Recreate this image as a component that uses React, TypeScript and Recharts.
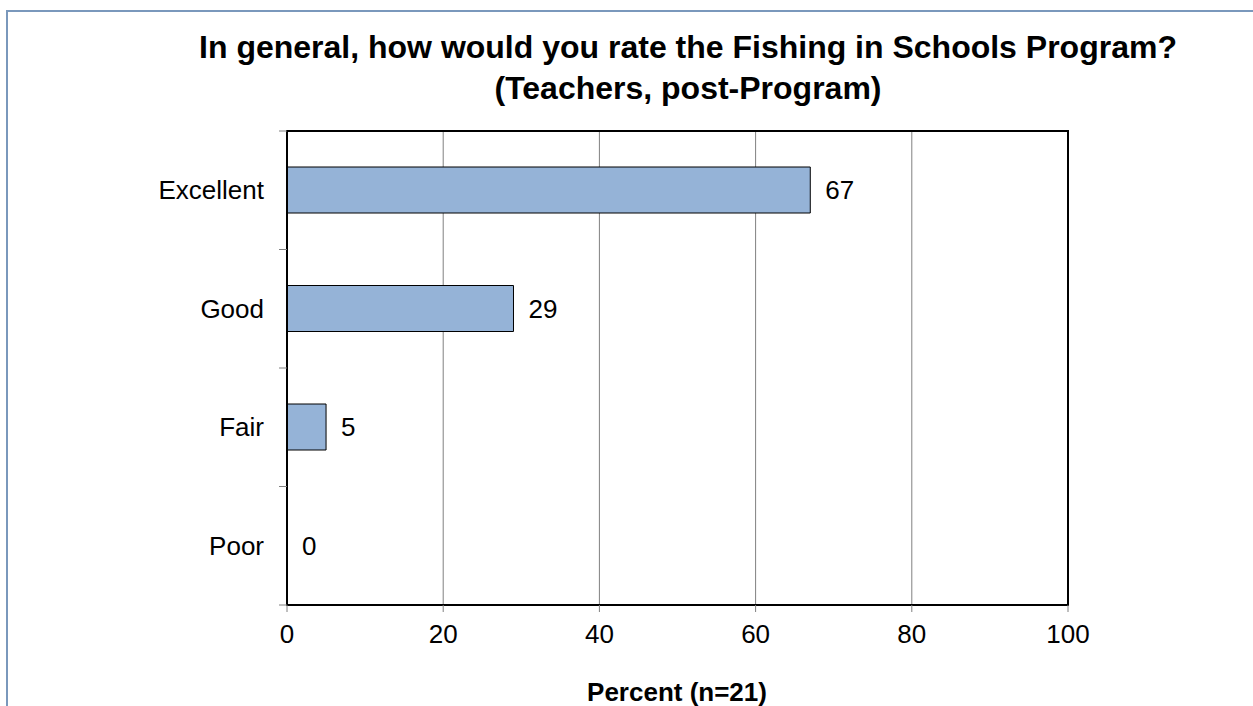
import React from "react";
import {
  BarChart,
  Bar,
  XAxis,
  YAxis,
  CartesianGrid,
  LabelList,
  ReferenceArea,
} from "recharts";

const categories = ["Excellent", "Good", "Fair", "Poor"];
const percents = [67, 29, 5, 0];
const xTicks = [0, 20, 40, 60, 80, 100];

const data = categories.map((c, i) => ({ name: c, value: percents[i] }));

const W = 1253;
const H = 706;
const PLOT_TOP = 131;
const PLOT_BOTTOM = 605;
const BAND = (PLOT_BOTTOM - PLOT_TOP) / categories.length;
const FONT = "'Liberation Sans', Arial, sans-serif";

const YTick = (props: any) => {
  const { x, y, payload } = props;
  return (
    <text
      x={x}
      y={y}
      textAnchor="end"
      dominantBaseline="central"
      fontSize={26}
      fontFamily={FONT}
      fill="#000"
    >
      {payload.value}
    </text>
  );
};

export default function App() {
  const axisX = 287;
  return (
    <div
      style={{
        position: "absolute",
        left: 0,
        top: 0,
        width: W,
        height: H,
        background: "#fff",
        overflow: "hidden",
        fontFamily: FONT,
      }}
    >
      <div
        style={{
          position: "absolute",
          left: 6,
          top: 10,
          width: W + 20,
          height: H + 20,
          border: "2px solid #7A98BC",
          boxSizing: "border-box",
        }}
      />
      <div
        style={{
          position: "absolute",
          left: 688 - 620,
          width: 1240,
          top: 27,
          textAlign: "center",
          fontWeight: "bold",
          fontSize: 32,
          lineHeight: "41px",
          color: "#000",
          whiteSpace: "nowrap",
        }}
      >
        In general, how would you rate the Fishing in Schools Program?
        <br />
        (Teachers, post-Program)
      </div>
      <BarChart
        width={W}
        height={H}
        data={data}
        layout="vertical"
        margin={{ top: PLOT_TOP, right: W - 1068, bottom: H - PLOT_BOTTOM - 50, left: 0 }}
        barSize={46}
        style={{ position: "absolute", left: 0, top: 0 }}
      >
        <CartesianGrid vertical={true} horizontal={false} stroke="#808080" strokeWidth={1} />
        <XAxis
          type="number"
          domain={[0, 100]}
          ticks={xTicks}
          height={50}
          axisLine={{ stroke: "#000", strokeWidth: 2 }}
          tickLine={{ stroke: "#808080" }}
          tickSize={7}
          tickMargin={13}
          tick={{ fontSize: 26, fill: "#000", fontFamily: FONT }}
          interval={0}
        />
        <YAxis
          type="category"
          dataKey="name"
          width={axisX}
          axisLine={{ stroke: "#000", strokeWidth: 2 }}
          tickLine={false}
          tickSize={0}
          tickMargin={23}
          tick={<YTick />}
          interval={0}
        />
        <ReferenceArea
          x1={0}
          x2={100}
          fill="none"
          fillOpacity={0}
          stroke="#000"
          strokeWidth={2}
          ifOverflow="visible"
        />
        <Bar
          dataKey="value"
          fill="#95B3D7"
          stroke="#000"
          strokeWidth={1}
          minPointSize={0.01}
          isAnimationActive={false}
        >
          <LabelList
            dataKey="value"
            position="right"
            offset={15}
            fill="#000"
            fontSize={26}
            fontFamily={FONT}
          />
        </Bar>
      </BarChart>
      <svg
        width={W}
        height={H}
        style={{ position: "absolute", left: 0, top: 0, pointerEvents: "none" }}
      >
        {Array.from({ length: categories.length + 1 }).map((_, i) => (
          <line
            key={i}
            x1={axisX - 8}
            x2={axisX}
            y1={PLOT_TOP + i * BAND}
            y2={PLOT_TOP + i * BAND}
            stroke="#808080"
            strokeWidth={1}
          />
        ))}
      </svg>
      <div
        style={{
          position: "absolute",
          left: 677 - 200,
          width: 400,
          top: 676,
          textAlign: "center",
          fontWeight: "bold",
          fontSize: 26,
          lineHeight: "32px",
          color: "#000",
        }}
      >
        Percent (n=21)
      </div>
    </div>
  );
}
